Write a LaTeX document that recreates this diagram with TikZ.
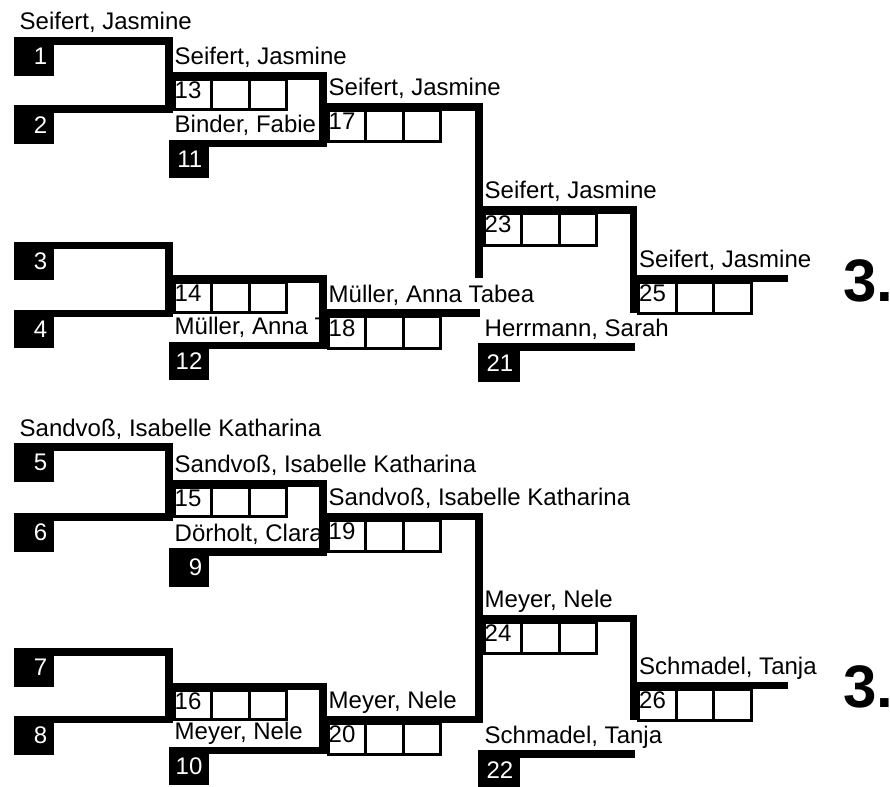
\documentclass[tikz,border=0pt]{standalone}
\usepackage{fontspec}
\setmainfont{Liberation Sans}
\usetikzlibrary{calc}

\newcommand{\lab}{\fontsize{24}{28}\selectfont}
\tikzset{
  bline/.style={line width=7.5pt},
  seed/.style={fill=black, text=white, anchor=north west, minimum height=38.5pt,
    text width=26.5pt, inner xsep=6.5pt, inner ysep=0pt, align=right, font=\lab},
  cell/.style={draw, line width=3pt, anchor=north west, minimum width=37.5pt, inner sep=0pt},
  cellnum/.style={anchor=base west, inner sep=0pt, font=\lab},
  player/.style={anchor=base west, inner sep=0pt, font=\lab},
  placing/.style={anchor=base west, inner sep=0pt, font=\bfseries\fontsize{60}{60}\selectfont}
}
% three score cells under a line, first one numbered
\newcommand{\scorecells}[3]{%
  \foreach \k in {0,1,2}
    \node[cell, minimum height=#3pt] (c#1-\k) at ($(#2)+(\k*37.5+3.75,2.25)$) {};
  \node[cellnum] (n#1) at ($(#2)+(5.5,23)$) {#1};
}

\begin{document}
\begin{tikzpicture}[x=1pt,y=-1pt]
  \useasboundingbox (0,0) rectangle (890,786);
  % columns
  \coordinate (vA) at (169,0);
  \coordinate (vB) at (323,0);
  \coordinate (vC) at (479,0);
  \coordinate (vD) at (633.5,0);
  % upper half
  \coordinate (L1) at (14,41);
  \coordinate (L2) at (14,109);
  \coordinate (L3) at (14,245.5);
  \coordinate (L4) at (14,313.3);
  \coordinate (L13) at (169,75.8);
  \coordinate (L11) at (169,143.3);
  \coordinate (L14) at (169,278.8);
  \coordinate (L12) at (169,345.5);
  \coordinate (L17) at (323,107);
  \coordinate (L18) at (323,313);
  \coordinate (L23) at (479,210);
  \coordinate (L21) at (479,347);
  \coordinate (L25) at (633.5,278.5);
  \coordinate (e17) at (479,278);
  \coordinate (e18) at (480,313);
  \coordinate (e23) at (633.5,312.8);
  \coordinate (e21) at (635,347);
  \coordinate (e25) at (788,278.5);
  % lower half
  \coordinate (L5) at (14,447);
  \coordinate (L6) at (14,517);
  \coordinate (L7) at (14,652);
  \coordinate (L8) at (14,719.7);
  \coordinate (L15) at (169,483.5);
  \coordinate (L9) at (169,552);
  \coordinate (L16) at (169,686.3);
  \coordinate (L10) at (169,750.3);
  \coordinate (L19) at (323,516.3);
  \coordinate (L20) at (323,719.7);
  \coordinate (L24) at (479,618.3);
  \coordinate (L22) at (479,754);
  \coordinate (L26) at (633.5,685.5);
  \coordinate (e24) at (633.5,720);
  \coordinate (e22) at (635,754);
  \coordinate (e26) at (788,685.5);

  % score cells
  \scorecells{13}{L13}{29.5}
  \scorecells{14}{L14}{29.5}
  \scorecells{17}{L17}{31.25}
  \scorecells{18}{L18}{31.25}
  \scorecells{23}{L23}{31.25}
  \scorecells{25}{L25}{31.25}
  \scorecells{15}{L15}{29.5}
  \scorecells{16}{L16}{29.5}
  \scorecells{19}{L19}{31.25}
  \scorecells{20}{L20}{31.25}
  \scorecells{24}{L24}{31.25}
  \scorecells{26}{L26}{31.25}

  % bracket lines
  \draw[bline] (L1) -| (vA |- L2) -- (L2);
  \draw[bline] (L3) -| (vA |- L4) -- (L4);
  \draw[bline] (L13) -| (vB |- L11) -- (L11);
  \draw[bline] (L14) -| (vB |- L12) -- (L12);
  \draw[bline] (L17) -| (e17);
  \draw[bline] (L18) -- (e18);
  \draw[bline] (L23) -| (e23);
  \draw[bline] (L21) -- (e21);
  \draw[bline] (L25) -- (e25);
  \draw[bline] (L5) -| (vA |- L6) -- (L6);
  \draw[bline] (L7) -| (vA |- L8) -- (L8);
  \draw[bline] (L15) -| (vB |- L9) -- (L9);
  \draw[bline] (L16) -| (vB |- L10) -- (L10);
  \draw[bline] (L19) -| (vC |- L20) -- (L20);
  \draw[bline] (L24) -| (e24);
  \draw[bline] (L22) -- (e22);
  \draw[bline] (L26) -- (e26);

  % black number boxes
  \node[seed] (s1) at ($(L1)+(0,-3.75)$) {1};
  \node[seed] (s2) at ($(L2)+(0,-3.75)$) {2};
  \node[seed] (s3) at ($(L3)+(0,-3.75)$) {3};
  \node[seed] (s4) at ($(L4)+(0,-3.75)$) {4};
  \node[seed] (b11) at ($(L11)+(0,-3.75)$) {11};
  \node[seed] (b12) at ($(L12)+(0,-3.75)$) {12};
  \node[seed, text width=28.5pt] (b21) at ($(L21)+(-1,-3.75)$) {21};
  \node[seed] (s5) at ($(L5)+(0,-3.75)$) {5};
  \node[seed] (s6) at ($(L6)+(0,-3.75)$) {6};
  \node[seed] (s7) at ($(L7)+(0,-3.75)$) {7};
  \node[seed] (s8) at ($(L8)+(0,-3.75)$) {8};
  \node[seed] (b9) at ($(L9)+(0,-3.75)$) {9};
  \node[seed] (b10) at ($(L10)+(0,-3.75)$) {10};
  \node[seed, text width=28.5pt] (b22) at ($(L22)+(-1,-3.75)$) {22};

  % names
  \node[player] (w1) at ($(L1)+(5.5,-11)$) {Seifert, Jasmine};
  \node[player] (w13) at ($(L13)+(5.5,-11)$) {Seifert, Jasmine};
  \node[player] (w17) at ($(L17)+(5.5,-11)$) {Seifert, Jasmine};
  \node[player] (w18) at ($(L18)+(5.5,-11)$) {Müller, Anna Tabea};
  \node[player] (w23) at ($(L23)+(5.5,-11)$) {Seifert, Jasmine};
  \node[player] (w21) at ($(L21)+(5.5,-11)$) {Herrmann, Sarah};
  \node[player] (w25) at ($(L25)+(5.5,-11)$) {Seifert, Jasmine};
  \node[player] (w5) at ($(L5)+(5.5,-11)$) {Sandvoß, Isabelle Katharina};
  \node[player] (w15) at ($(L15)+(5.5,-11)$) {Sandvoß, Isabelle Katharina};
  \node[player] (w19) at ($(L19)+(5.5,-11)$) {Sandvoß, Isabelle Katharina};
  \node[player] (w20) at ($(L20)+(5.5,-11)$) {Meyer, Nele};
  \node[player] (w24) at ($(L24)+(5.5,-11)$) {Meyer, Nele};
  \node[player] (w22) at ($(L22)+(5.5,-11)$) {Schmadel, Tanja};
  \node[player] (w26) at ($(L26)+(5.5,-11)$) {Schmadel, Tanja};
  \begin{scope}
    \clip (160,0) rectangle (319.25,786);
    \node[player] (w11) at ($(L11)+(5.5,-11)$) {Binder, Fabie};
    \node[player] (w12) at ($(L12)+(5.5,-11)$) {Müller, Anna T};
    \node[player] (w9) at ($(L9)+(5.5,-11)$) {Dörholt, Clara};
    \node[player] (w10) at ($(L10)+(5.5,-11)$) {Meyer, Nele};
  \end{scope}

  % places
  \node[placing] (p1) at (843,301.5) {3.};
  \node[placing] (p2) at (843,707.5) {3.};
\end{tikzpicture}
\end{document}
